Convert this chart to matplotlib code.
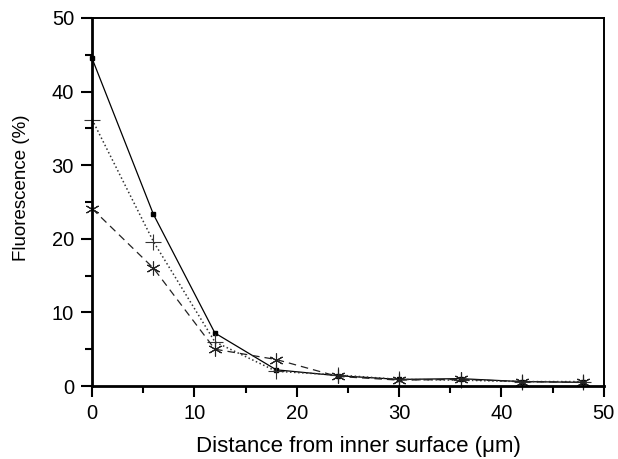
import numpy as np
import matplotlib.pyplot as plt

plt.rcParams['font.family'] = ['Liberation Sans', 'DejaVu Sans']

# data
distance = [0, 6, 12, 18, 24, 30, 36, 42, 48]
series_solid = [44.5, 23.3, 7.2, 2.2, 1.4, 0.9, 1.0, 0.6, 0.5]
series_dotted = [36.2, 19.6, 6.0, 2.0, 1.5, 0.9, 0.8, 0.6, 0.6]
series_dashed = [24.1, 16.0, 5.0, 3.6, 1.3, 0.8, 0.9, 0.6, 0.5]

fig = plt.figure(figsize=(6.18, 4.59), dpi=100)
ax = fig.add_axes([0.149, 0.159, 0.828, 0.802])

ax.plot(distance, series_solid, '-', color='black', lw=0.9,
        marker='s', ms=2.5, clip_on=False)
ax.plot(distance, series_dotted, ':', color='#333333', lw=1.1,
        marker='+', ms=11, mew=0.8, clip_on=False)
ax.plot(distance, series_dashed, '--', color='#222222', lw=0.9, dashes=(6, 4),
        marker=(6, 2, 0), ms=10, mew=0.8, clip_on=False)

ax.set_xlim(0, 50)
ax.set_ylim(0, 50)
ax.set_xticks([0, 10, 20, 30, 40, 50])
ax.set_yticks([0, 10, 20, 30, 40, 50])
ax.set_xticks([5, 15, 25, 35, 45], minor=True)
ax.set_yticks([5, 15, 25, 35, 45], minor=True)
ax.tick_params(which='major', direction='out', length=8, width=1.5, labelsize=14.5, pad=5)
ax.tick_params(which='minor', direction='out', length=5, width=1.5)

for side in ['left', 'bottom']:
    ax.spines[side].set_linewidth(2)
for side in ['top', 'right']:
    ax.spines[side].set_linewidth(1.4)

ax.set_xlabel('Distance from inner surface (\u03bcm)', fontsize=16)
ax.set_ylabel('Fluorescence (%)', fontsize=13.5)
ax.xaxis.set_label_coords(0.521, -0.135)
ax.yaxis.set_label_coords(-0.121, 0.538)

fig.savefig('out.png', dpi=100)
